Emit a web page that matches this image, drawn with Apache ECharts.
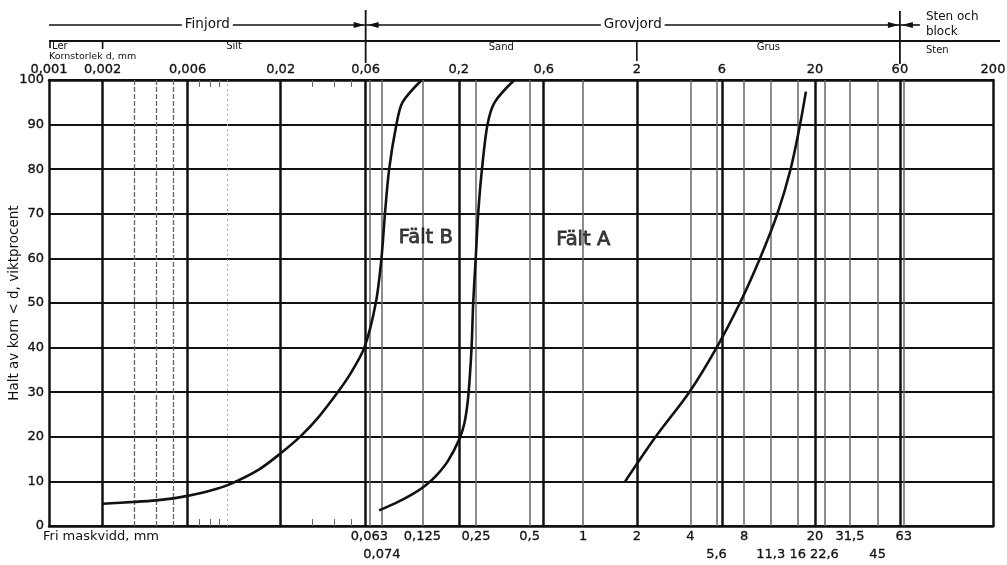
<!DOCTYPE html>
<html><head><meta charset="utf-8">
<script src="https://cdn.jsdelivr.net/npm/echarts@6/dist/echarts.min.js"></script>
<style>html,body{margin:0;padding:0;background:#fff}#c{width:1007px;height:565px}</style>
</head><body><div id="c"></div>
<script>
// ---- data (grain size in mm, passing in percent) ----
const topTickLabels = [0.001, 0.002, 0.006, 0.02, 0.06, 0.2, 0.6, 2, 6, 20, 60, 200];
const sieveRow1 = [0.063, 0.125, 0.25, 0.5, 1, 2, 4, 8, 20, 31.5, 63];
const sieveRow2 = [0.074, 5.6, 11.3, 16, 22.6, 45];
const majorLines = [0.002, 0.006, 0.02, 0.06, 0.2, 0.6, 2, 6, 20, 60];
const sieveLines = [0.063, 0.074, 0.125, 0.25, 0.5, 1, 4, 5.6, 8, 11.3, 16, 22.6, 31.5, 45, 63];
const siltLines = [0.003, 0.004, 0.005];
const dotLines = [0.01];
const shortTicks = [0.007, 0.008, 0.009, 0.03, 0.04, 0.05];

const curveLeftX  = [0.002, 0.003, 0.004, 0.005, 0.006, 0.008, 0.01, 0.015, 0.02, 0.026, 0.032, 0.0418, 0.049, 0.059, 0.0684, 0.0736, 0.077, 0.0813, 0.0893, 0.0966, 0.124];
const curveLeftY  = [5, 5.4, 5.75, 6.2, 6.75, 7.9, 9.1, 12.6, 16.3, 20.2, 24, 30, 34, 40, 50, 60, 70, 80, 90, 95, 100];
const curveMidX   = [0.0714, 0.09, 0.11, 0.13, 0.15, 0.174, 0.2, 0.215, 0.226, 0.236, 0.241, 0.249, 0.257, 0.27, 0.29, 0.318, 0.41];
const curveMidY   = [3.5, 5.3, 7.15, 9.1, 11.35, 14.6, 19.2, 23, 29, 40, 50, 60, 70, 80, 90, 95, 100];
const curveRightX = [1.72, 2.55, 3.94, 5.61, 7.58, 9.82, 12.3, 14.6, 16.5, 17.8];
const curveRightY = [10, 20, 30, 40, 50, 60, 70, 80, 90, 97.4];

const fieldNames = ['Fält B', 'Fält A'];
const fieldX = [0.1306, 1.0];
const fieldY = [64.6, 64.2];

// ---- helpers ----
const FONT = '"DejaVu Sans", sans-serif';
const fmt = v => String(+(+v).toPrecision(6)).replace('.', ',');
const zip = (xs, ys) => xs.map((x, i) => [x, ys[i]]);
const vline = (v, style) => ({ xAxis: v, lineStyle: style });
const lblStyle = { color: '#111', fontSize: 13, fontFamily: FONT, textBorderColor: '#111', textBorderWidth: 0.3 };

const logAxisBase = {
  type: 'log', logBase: 10, min: 0.001, max: 200, gridIndex: 0,
  splitLine: { show: false }, minorTick: { show: false }, minorSplitLine: { show: false }
};

const chart = echarts.init(document.getElementById('c'), null, { renderer: 'canvas' });

const option = {
  animation: false,
  backgroundColor: '#fff',
  grid: { left: 49, right: 14, top: 80, bottom: 39, containLabel: false, outerBoundsMode: 'none' },
  xAxis: [
    Object.assign({}, logAxisBase, {
      position: 'bottom',
      axisLine: { show: true, onZero: false, lineStyle: { color: '#111', width: 2.5 } },
      axisTick: { show: true, inside: true, length: 7, customValues: shortTicks, lineStyle: { color: '#666', width: 1 } },
      axisLabel: Object.assign({ show: true, customValues: sieveRow1, formatter: fmt, margin: 4 }, lblStyle)
    }),
    Object.assign({}, logAxisBase, {
      position: 'bottom', offset: 18,
      axisLine: { show: false }, axisTick: { show: false },
      axisLabel: Object.assign({ show: true, customValues: sieveRow2, formatter: fmt, margin: 4 }, lblStyle)
    }),
    Object.assign({}, logAxisBase, {
      position: 'top',
      axisLine: { show: true, onZero: false, lineStyle: { color: '#111', width: 2.5 } },
      axisTick: { show: true, inside: true, length: 7, customValues: shortTicks, lineStyle: { color: '#666', width: 1 } },
      axisLabel: Object.assign({ show: true, customValues: topTickLabels, formatter: fmt, margin: 4 }, lblStyle)
    })
  ],
  yAxis: [
    {
      type: 'value', min: 0, max: 100, interval: 10, position: 'left',
      name: 'Halt av korn < d, viktprocent', nameLocation: 'middle', nameGap: 28, nameRotate: 90,
      nameMoveOverlap: false,
      nameTextStyle: { fontSize: 13.5, color: '#111', fontFamily: FONT },
      axisLine: { show: true, lineStyle: { color: '#111', width: 2.5 } },
      axisTick: { show: false },
      axisLabel: Object.assign({ margin: 5 }, lblStyle),
      splitLine: { show: true, lineStyle: { color: '#111', width: 2 } }
    },
    {
      type: 'value', min: 0, max: 100, interval: 10, position: 'right',
      axisLine: { show: true, lineStyle: { color: '#111', width: 2.5 } },
      axisTick: { show: false }, axisLabel: { show: false }, splitLine: { show: false }
    }
  ],
  series: [
    {
      name: 'gridlines', type: 'line', xAxisIndex: 0, yAxisIndex: 0, data: [], z: 1, silent: true,
      markLine: {
        silent: true, symbol: ['none', 'none'], label: { show: false }, animation: false, precision: 8,
        data: [].concat(
          dotLines.map(v => vline(v, { color: '#aaa', width: 1, type: [2, 3] })),
          siltLines.map(v => vline(v, { color: '#666', width: 1.3, type: [5, 2] })),
          sieveLines.map(v => vline(v, { color: '#666', width: 1.5, type: 'solid' })),
          majorLines.map(v => vline(v, { color: '#111', width: 2.5, type: 'solid' }))
        )
      }
    },
    {
      name: 'left', type: 'line', data: zip(curveLeftX, curveLeftY), smooth: 0.3,
      showSymbol: false, symbol: 'none', lineStyle: { color: '#111', width: 2.6 }, z: 5
    },
    {
      name: 'middle', type: 'line', data: zip(curveMidX, curveMidY), smooth: 0.3,
      showSymbol: false, symbol: 'none', lineStyle: { color: '#111', width: 2.6 }, z: 5
    },
    {
      name: 'right', type: 'line', data: zip(curveRightX, curveRightY), smooth: 0.3,
      showSymbol: false, symbol: 'none', lineStyle: { color: '#111', width: 2.6 }, z: 5
    },
    {
      name: 'fields', type: 'scatter', symbolSize: 0, z: 6,
      data: fieldNames.map((n, i) => ({ name: n, value: [fieldX[i], fieldY[i]] })),
      label: { show: true, position: 'inside', formatter: p => p.name, fontSize: 19.5, color: '#111', fontFamily: FONT, textBorderColor: '#111', textBorderWidth: 0.8 }
    }
  ]
};
chart.setOption(option);

// ---- header annotations (positions derived from the x axis) ----
const px = v => chart.convertToPixel({ xAxisIndex: 0 }, v);
const xL = px(0.001), x002 = px(0.002), x06 = px(0.06), x2 = px(2), x60 = px(60);
const y1 = 25, y2 = 41;
const line = (x1, ya, x2_, yb, w) => ({ type: 'line', shape: { x1: x1, y1: ya, x2: x2_, y2: yb }, style: { stroke: '#111', lineWidth: w || 1.6 }, silent: true });
const arrow = (xTip, y, dir) => ({ type: 'polygon', shape: { points: [[xTip, y], [xTip - dir * 11, y - 3], [xTip - dir * 11, y + 3]] }, style: { fill: '#111' }, silent: true });
const text = (t, x, y, size, align, extra) => ({ type: 'text', x: x, y: y, z: 10, style: Object.assign({ text: t, fill: '#111', font: size + 'px ' + FONT, textAlign: align || 'center', textVerticalAlign: 'middle' }, extra || {}), silent: true });

chart.setOption({
  graphic: [
    // row 1: Finjord / Grovjord / Sten och block
    line(xL, y1, x06, y1), arrow(x06 - 1, y1, 1),
    line(x06, y1, x60, y1), arrow(x06 + 2, y1, -1), arrow(x60 - 1, y1, 1),
    line(x60, y1, x60 + 20, y1), arrow(x60 + 2, y1, -1),
    text('Finjord', (xL + x06) / 2, y1 - 1, 13.5, 'center', { backgroundColor: '#fff', padding: [0, 3] }),
    text('Grovjord', (x06 + x60) / 2, y1 - 1, 13.5, 'center', { backgroundColor: '#fff', padding: [0, 3] }),
    text('Sten och', x60 + 26, y1 - 8, 12, 'left'),
    text('block', x60 + 26, y1 + 7, 12, 'left'),
    // separators
    line(x06, 10, x06, 63, 1.8), line(x60, 11, x60, 64, 1.8),
    // row 2: Ler / Silt / Sand / Grus / Sten
    line(xL, y2, 1000, y2, 1.8),
    line(xL + 1, y2, xL + 1, y2 + 7), line(x002, y2, x002, y2 + 8), line(x2, y2, x2, y2 + 20),
    text('Ler', xL + 3, y2 + 5, 10, 'left'),
    text('Silt', (x002 + x06) / 2, y2 + 5, 10, 'center'),
    text('Sand', (x06 + x2) / 2, y2 + 6, 10, 'center'),
    text('Grus', (x2 + x60) / 2, y2 + 6, 10, 'center'),
    text('Sten', x60 + 26, y2 + 9, 10, 'left'),
    text('Kornstorlek d, mm', xL, y2 + 16, 9.5, 'left'),
    // bottom axis title
    text('Fri maskvidd, mm', 43, 537, 13, 'left', { textStroke: '#111', lineWidth: 0.3 })
  ]
});
</script>
</body></html>
